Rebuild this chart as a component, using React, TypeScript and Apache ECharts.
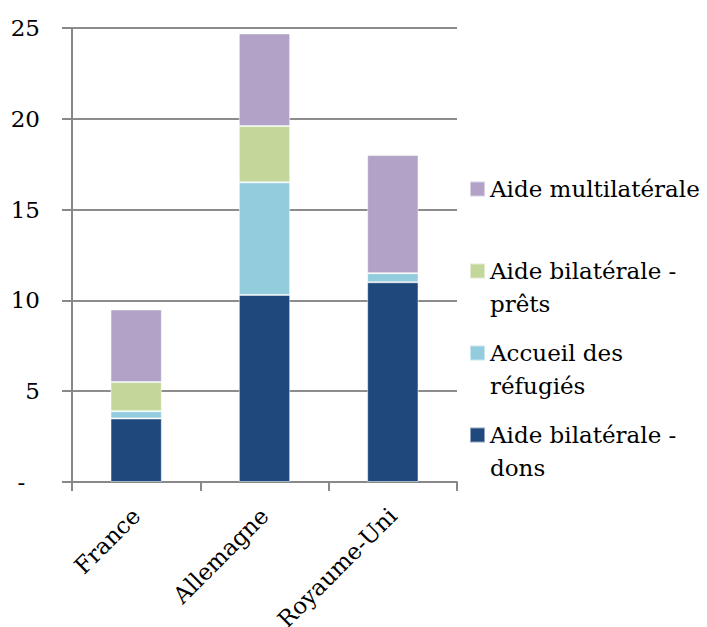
import React, { useEffect, useRef } from "react";
import * as echarts from "echarts";

const categories = ["France", "Allemagne", "Royaume-Uni"];
const donsValues = [3.5, 10.3, 11.0];
const refugiesValues = [0.4, 6.2, 0.5];
const pretsValues = [1.6, 3.1, 0];
const multiValues = [4.0, 5.1, 6.5];
const yTicks = [0, 5, 10, 15, 20, 25];

const seriesNames = [
  "Aide bilatérale - dons",
  "Accueil des réfugiés",
  "Aide bilatérale - prêts",
  "Aide multilatérale",
];
const legendLabels: Record<string, string> = {
  "Aide multilatérale": "Aide multilatérale",
  "Aide bilatérale - prêts": " \nAide bilatérale -\nprêts",
  "Accueil des réfugiés": " \nAccueil des\nréfugiés",
  "Aide bilatérale - dons": " \nAide bilatérale -\ndons",
};
const colors = ["#1F497D", "#93CDDD", "#C4D79B", "#B2A2C7"];

const FONT = "DejaVu Serif";
const FS = 23;
const LH = 33;

export default function App() {
  const ref = useRef<HTMLDivElement>(null);
  useEffect(() => {
    if (!ref.current) return;
    const chart = echarts.init(ref.current, null, { renderer: "svg" });
    const values = [donsValues, refugiesValues, pretsValues, multiValues];
    const legendOrder = [
      { name: "Aide multilatérale", center: 189 },
      { name: "Aide bilatérale - prêts", center: 271 },
      { name: "Accueil des réfugiés", center: 353 },
      { name: "Aide bilatérale - dons", center: 435 },
    ];
    const legends = legendOrder.map((l) => {
      const lines = legendLabels[l.name].split("\n").length;
      const boxH = lines * LH;
      return {
        orient: "vertical",
        left: 469,
        top: l.center - boxH / 2,
        padding: 0,
        itemWidth: 15,
        itemHeight: 15,
        icon: "rect",
        selectedMode: false,
        formatter: (n: string) => legendLabels[n],
        textStyle: {
          fontFamily: FONT,
          fontSize: FS,
          color: "#000",
          lineHeight: LH,
        },
        data: [{ name: l.name }],
      };
    });
    chart.setOption({
      animation: false,
      color: colors,
      grid: { left: 72, right: 250, top: 28, bottom: 145, outerBoundsMode: "none", containLabel: false },
      legend: legends,
      xAxis: {
        type: "category",
        data: categories,
        boundaryGap: true,
        axisLine: { show: true, lineStyle: { color: "#888", width: 2 } },
        axisTick: { show: true, length: 9, alignWithLabel: false, lineStyle: { color: "#888", width: 2 } },
        axisLabel: {
          rotate: 45,
          margin: 30,
          fontFamily: FONT,
          fontSize: FS,
          color: "#000",
        },
      },
      yAxis: {
        type: "value",
        min: yTicks[0],
        max: yTicks[yTicks.length - 1],
        interval: 5,
        axisLine: { show: true, lineStyle: { color: "#888", width: 2 } },
        axisTick: { show: true, length: 10, lineStyle: { color: "#888", width: 2 } },
        splitLine: { show: true, lineStyle: { color: "#8c8c8c", width: 2 } },
        axisLabel: {
          margin: 32,
          fontFamily: FONT,
          fontSize: FS,
          color: "#000",
          formatter: (v: number) => (v === 0 ? "-\u00a0\u00a0" : String(v)),
        },
      },
      series: seriesNames.map((name, i) => ({
        name,
        type: "bar",
        stack: "total",
        barWidth: "40%",
        data: values[i],
        itemStyle: { color: colors[i], borderColor: "rgba(255,255,255,0.5)", borderWidth: 1 },
      })),
    });
    return () => chart.dispose();
  }, []);
  return <div ref={ref} style={{ position: "absolute", left: 0, top: 0, width: 707, height: 627 }} />;
}
